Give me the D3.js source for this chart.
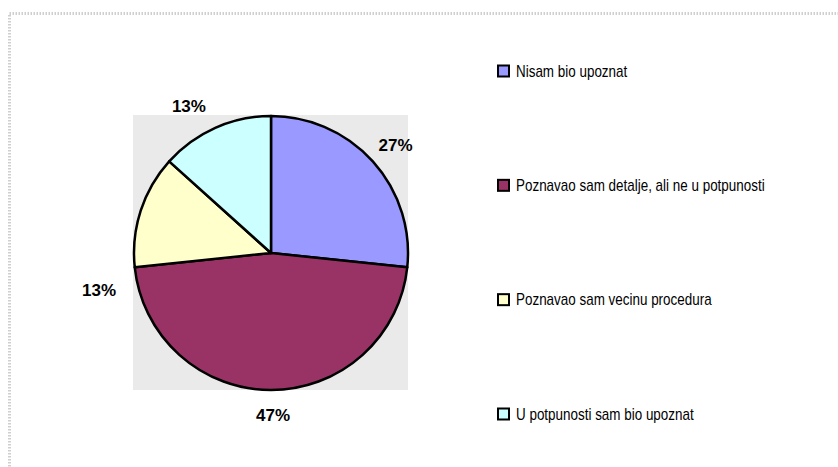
<!DOCTYPE html>
<html>
<title>Pie</title>
<meta charset="UTF-8">
	<script type="text/javascript" src="https://d3js.org/d3.v7.min.js"></script>
		<style type="text/css">
			body {
				margin:0;
				background:white;
			}
			text {
				font-family: "Liberation Sans", Arial, sans-serif;
			}
			.pct {
				font-size: 17px;
				font-weight: bold;
			}
			.leg {
				font-size: 16px;
			}
		</style>

	<body>
		<svg id="viz"></svg>
	</body>

	<script type="text/javascript">

		var categories = [
			"Nisam bio upoznat",
			"Poznavao sam detalje, ali ne u potpunosti",
			"Poznavao sam vecinu procedura",
			"U potpunosti sam bio upoznat"
		];
		var values = [4, 7, 2, 2];
		var colors = ["#9999FF", "#993366", "#FFFFCC", "#CCFFFF"];

		// label nudges, Excel put some labels off the bisector
		var labelNudge = [[2, 2], [2, -3], [-15, 88], [-15, 4]];

		var width = 838, height = 467;
		var cx = 271, cy = 253, radius = 137;

		var svg = d3.select("#viz")
			.attr("width", width)
			.attr("height", height);

		// dotted outer frame
		svg.append("rect")
			.attr("x", 9.5)
			.attr("y", 13.5)
			.attr("width", width)
			.attr("height", height)
			.attr("fill", "none")
			.attr("stroke", "#cfcfcf")
			.attr("stroke-width", 3)
			.attr("stroke-dasharray", "1.5,1.5");

		// plot area
		svg.append("rect")
			.attr("x", cx - radius - 1)
			.attr("y", cy - radius - 1)
			.attr("width", radius * 2 + 1)
			.attr("height", radius * 2 + 1)
			.attr("fill", "#eaeaea");

		var total = d3.sum(values);
		var pie = d3.pie().sort(null).value(function(d){ return d; });
		var arcs = pie(values);
		var arc = d3.arc().innerRadius(0).outerRadius(radius);
		var labelArc = d3.arc().innerRadius(165).outerRadius(165);

		var g = svg.append("g")
			.attr("transform", "translate(" + cx + "," + cy + ")");

		g.selectAll("path")
			.data(arcs)
			.enter().append("path")
			.attr("d", arc)
			.attr("fill", function(d, i){ return colors[i]; })
			.attr("stroke", "black")
			.attr("stroke-width", 2.5)
			.attr("stroke-linejoin", "round");

		g.selectAll("text.pct")
			.data(arcs)
			.enter().append("text")
			.attr("class", "pct")
			.attr("text-anchor", "middle")
			.attr("dy", "0.35em")
			.attr("x", function(d, i){ return labelArc.centroid(d)[0] + labelNudge[i][0]; })
			.attr("y", function(d, i){ return labelArc.centroid(d)[1] + labelNudge[i][1]; })
			.text(function(d){ return Math.round(d.value / total * 100) + "%"; });

		// legend
		var legY = d3.scalePoint()
			.domain(categories)
			.range([71, 414]);

		var leg = svg.selectAll("g.leg")
			.data(categories)
			.enter().append("g")
			.attr("transform", function(d){ return "translate(497," + legY(d) + ")"; });

		leg.append("rect")
			.attr("x", 1)
			.attr("y", -5.5)
			.attr("width", 11)
			.attr("height", 11)
			.attr("fill", function(d, i){ return colors[i]; })
			.attr("stroke", "black")
			.attr("stroke-width", 2);

		// the original legend font is a narrow one, squeeze it
		leg.append("text")
			.attr("class", "leg")
			.attr("transform", "translate(19,0) scale(0.84,1)")
			.attr("dy", "0.35em")
			.text(function(d){ return d; });

	</script>
</html>
